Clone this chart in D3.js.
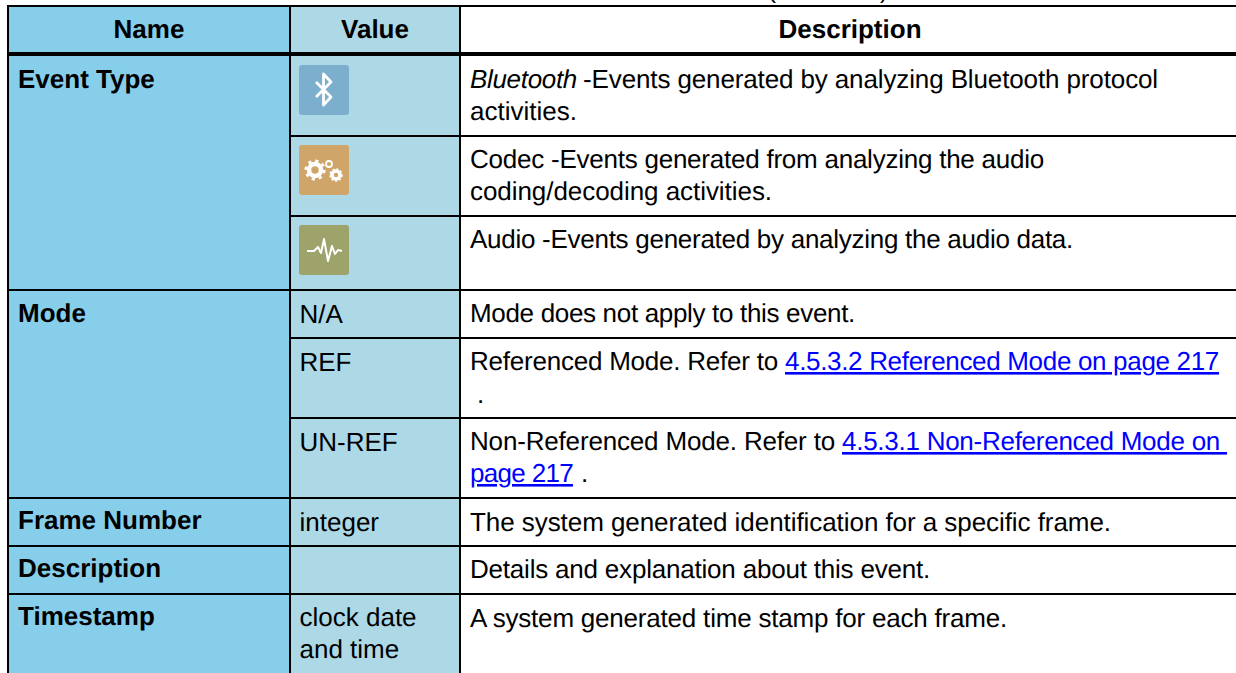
<!DOCTYPE html>
<html><head><meta charset="utf-8">
<script src="https://cdn.jsdelivr.net/npm/d3@7/dist/d3.min.js"></script>
<style>html,body{margin:0;padding:0;background:#fff;overflow:hidden}svg{display:block}
text{font-family:"Liberation Sans",Arial,sans-serif;font-size:26px;fill:#000;white-space:pre;text-rendering:geometricPrecision}</style></head>
<body><svg width="1236" height="673"></svg>
<script>
const columns = ["Name","Value","Description"];
const names = ["Event Type","Mode","Frame Number","Description","Timestamp"];
const values = ["N/A","REF","UN-REF","integer","clock date","and time"];
const descriptions = [
 [["Bluetooth","i"],["-Events generated by analyzing Bluetooth protocol"]],
 [["activities."]],
 [["Codec -Events generated from analyzing the audio"]],
 [["coding/decoding activities."]],
 [["Audio -Events generated by analyzing the audio data."]],
 [["Mode does not apply to this event."]],
 [["Referenced Mode. Refer to"],["4.5.3.2 Referenced Mode on page 217","a"]],
 [["."]],
 [["Non-Referenced Mode. Refer to"],["4.5.3.1 Non-Referenced Mode on ","a"]],
 [["page 217","a"],["."]],
 [["The system generated identification for a specific frame."]],
 [["Details and explanation about this event."]],
 [["A system generated time stamp for each frame."]]
];
// layout, kept apart from the text
const nameBase = [88,322,529,577,625];
const valueBase = [322.5,370.5,450.5,530.5,626,658];
const descBase = [88,120,168,200,248,322,370,403,450,482,531,578,627];
const descSpan = [
 [[470,577],[583,1158]],[[470,577]],[[470,1044]],[[470,772]],[[470,1073]],[[470,855]],
 [[470,778],[785,1219]],[[477,481]],[[470,835],[842,1227]],[[470,573],[581,585]],
 [[470,1111]],[[470,930]],[[470,1007]]
];
const rowLines = [[290,136],[290,216],[8,290],[290,338],[290,418],[8,498],[8,546],[8,594]];
const svg = d3.select("svg");
const X = {a:8,b:290,c:460,r:1236};
const yTop=6, yHead=54, yEnd=673;
svg.append("defs").append("filter").attr("id","soft").append("feGaussianBlur").attr("stdDeviation",0.6);
svg.append("rect").attr("x",X.a).attr("y",yTop).attr("width",X.b-X.a).attr("height",yEnd-yTop).attr("fill","#87ceeb");
svg.append("rect").attr("x",X.b).attr("y",yTop).attr("width",X.c-X.b).attr("height",yEnd-yTop).attr("fill","#add8e6");
svg.append("text").attr("x",828).attr("y",-2).attr("text-anchor","middle").style("font-size","24px").text("(continued)");
const heads=[(X.a+X.b)/2,(X.b+X.c)/2,850];
svg.selectAll("text.h").data(columns).join("text").attr("class","h").attr("x",(d,i)=>heads[i]).attr("y",38).attr("text-anchor","middle").attr("font-weight","bold").text(d=>d);
svg.selectAll("text.n").data(names).join("text").attr("class","n").attr("x",18).attr("y",(d,i)=>nameBase[i]).attr("font-weight","bold").text(d=>d);
svg.selectAll("text.v").data(values).join("text").attr("class","v").attr("x",299.5).attr("y",(d,i)=>valueBase[i]).text(d=>d);
descriptions.forEach((line,i)=>{
  const t=svg.append("text").attr("class","d").attr("y",descBase[i]);
  line.forEach((s,j)=>{
    const [x0,x1]=descSpan[i][j];
    const p=t.append("tspan").attr("x",x0).text(s[0]);
    if(s[1]==="i")p.attr("font-style","italic");
    if(s[1]==="a")p.style("fill","#0000ff").style("text-decoration","underline");
    const n=p.node().getComputedTextLength();
    p.style("letter-spacing",((x1-x0-n)/s[0].length)+"px");
  });
});
// icons
const icons=[[65,"#7bafcd"],[145,"#cfa56a"],[225,"#9da36a"]];
svg.selectAll("rect.ic").data(icons).join("rect").attr("class","ic").attr("x",299).attr("y",d=>d[0]).attr("width",50).attr("height",50).attr("rx",3).attr("fill",d=>d[1]);
const ig=svg.append("g").attr("fill","none").attr("stroke","#fff").attr("stroke-linejoin","round").attr("filter","url(#soft)");
ig.append("path").attr("d","M316 82 L331 97 L323.5 105 L323.5 74 L331 82 L316 97").attr("stroke-width",2.8);
ig.append("circle").attr("cx",315).attr("cy",170).attr("r",6).attr("stroke-width",4.5);
ig.append("circle").attr("cx",315).attr("cy",170).attr("r",9.3).attr("stroke-width",2.6).attr("stroke-dasharray","3.2 4.1");
ig.append("circle").attr("cx",336).attr("cy",175).attr("r",4).attr("stroke-width",3.5);
ig.append("circle").attr("cx",336).attr("cy",175).attr("r",6).attr("stroke-width",1.5).attr("stroke-dasharray","2 2");
ig.append("circle").attr("cx",329).attr("cy",164).attr("r",3).attr("stroke-width",1.8);
ig.append("path").attr("d","M307 251 H314 L318 247 L321 253 L324 239 L328 261 L332 246 L335 254 L338 250 L342 251").attr("stroke-width",2);
// lines
const L=(x1,y1,x2,y2,w)=>svg.append("line").attr("x1",x1).attr("y1",y1).attr("x2",x2).attr("y2",y2).attr("stroke","#000").attr("stroke-width",w);
L(X.a-1,6,X.r,6,2);L(X.a-1,54,X.r,54,4);
rowLines.forEach(r=>L(r[0],r[1],X.r,r[1],2));
[X.a,X.b,X.c].forEach(x=>L(x,5,x,yEnd,2));
</script></body></html>
